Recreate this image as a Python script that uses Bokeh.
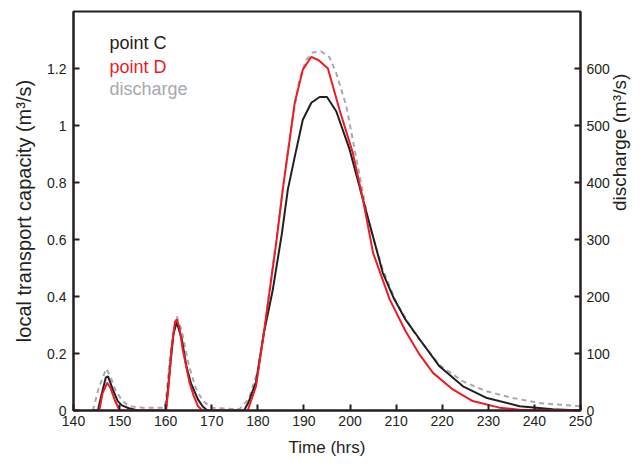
import math
from bokeh.plotting import figure
from bokeh.models import Range1d, LinearAxis, FixedTicker, CustomJSTickFormatter, Label
from bokeh.embed import file_html
from bokeh.resources import INLINE

# ---------------- data ----------------
time_c = [144, 145.3, 146, 147, 147.5, 148.5, 149.6, 150.5, 152, 154,
          160, 160.4, 161, 161.7, 162.4, 163.5, 164.5, 165.5, 167, 168, 169,
          177, 178, 179.6, 181.4, 183.2, 185.2, 186.5, 188, 189.75, 191.6,
          193.4, 195, 197, 199.9, 202.8, 205, 207.1, 209.6, 212, 215.1,
          219.4, 224.5, 229.5, 236.8, 244, 250]
point_c = [0, 0, 0.05, 0.115, 0.12, 0.075, 0.033, 0.018, 0.008, 0,
           0, 0.06, 0.16, 0.27, 0.31, 0.25, 0.155, 0.095, 0.039, 0.015, 0,
           0, 0.03, 0.1, 0.28, 0.42, 0.62, 0.775, 0.89, 1.02, 1.08,
           1.10, 1.10, 1.05, 0.916, 0.74, 0.61, 0.483, 0.39, 0.32, 0.25,
           0.155, 0.085, 0.045, 0.015, 0.004, 0]

time_d = [144, 145.6, 146.3, 147.3, 148, 149, 150, 160.1, 160.6, 161.3, 162,
          162.4, 163, 163.7, 164.5, 165.2, 166, 167, 168, 177.8, 179.6,
          181.4, 182.9, 184.0, 185.4, 186.9, 188, 189.75, 191.6, 193.2, 195.2,
          197.7, 200.6, 202.8, 205, 208.6, 212, 215.1, 218, 222.3, 226.6,
          232.4, 236.8, 250]
point_d = [0, 0, 0.06, 0.097, 0.08, 0.035, 0, 0, 0.08, 0.22, 0.31,
           0.32, 0.29, 0.214, 0.15, 0.097, 0.055, 0.015, 0, 0, 0.085,
           0.284, 0.46, 0.59, 0.775, 0.95, 1.08, 1.196, 1.241, 1.229, 1.2,
           1.056, 0.904, 0.74, 0.553, 0.39, 0.28, 0.196, 0.132, 0.074, 0.033,
           0.01, 0.003, 0]

time_q = [144.2, 145.5, 147.1, 148, 149, 150.5, 152.1, 155, 159.8, 160.2,
          161, 162.4, 163.5, 165, 166.5, 168, 170, 175, 176, 178, 180,
          181.5, 183, 184.5, 186, 187.5, 189, 190.5, 191.9, 193.7, 195.5,
          197, 199.2, 201.7, 204, 207, 210, 214, 219.4, 224.5, 229.5,
          235.3, 241.1, 249.8]
discharge = [0, 40, 73, 60, 37.5, 17.5, 7.5, 5, 5, 30,
             100, 165, 140, 80, 40, 17.5, 5, 2.5, 2.5, 20, 70,
             150, 240, 330, 425, 510, 580, 615, 628, 630, 620,
             592, 534, 428, 330, 250, 190, 135, 80, 51, 34,
             22, 13, 7.5]

x_ticks = [140, 150, 160, 170, 180, 190, 200, 210, 220, 230, 240, 250]
y_ticks = [0, 0.2, 0.4, 0.6, 0.8, 1.0, 1.2]
q_ticks = [0, 100, 200, 300, 400, 500, 600]
legend_labels = ["point C", "point D", "discharge"]

# ---------------- style ----------------
FONT = "Liberation Sans"
INK = "#231f20"
RED = "#ed1c24"
GRAY = "#a7a9ac"

p = figure(width=643, height=461, output_backend="svg", toolbar_location=None,
           x_range=Range1d(140, 250), y_range=Range1d(0, 1.4),
           min_border_left=73, min_border_right=63, min_border_top=11,
           min_border_bottom=51)
p.extra_y_ranges = {"q": Range1d(0, 700)}
p.xgrid.visible = False
p.ygrid.visible = False
p.outline_line_color = INK
p.outline_line_width = 2
p.outline_line_alpha = 1.0
p.background_fill_color = "white"
p.border_fill_color = "white"

p.line(time_q, discharge, y_range_name="q", line_color=GRAY, line_width=2,
       line_dash="5 4")
p.line(time_c, point_c, line_color=INK, line_width=2)
p.line(time_d, point_d, line_color=RED, line_width=2)

right = LinearAxis(y_range_name="q")
p.add_layout(right, "right")

p.xaxis.ticker = FixedTicker(ticks=x_ticks)
p.yaxis[0].ticker = FixedTicker(ticks=y_ticks)
p.yaxis[0].formatter = CustomJSTickFormatter(
    code="return tick.toFixed(1).replace(/\\.0$/, '');")
right.ticker = FixedTicker(ticks=q_ticks)

p.xaxis.axis_label = "Time (hrs)"
p.yaxis[0].axis_label = "local transport capacity (m\u00b3/s)"

for ax in [p.xaxis[0], p.yaxis[0], right]:
    ax.major_tick_in = 6
    ax.major_tick_out = 0
    ax.minor_tick_in = 0
    ax.minor_tick_out = 0
    ax.axis_line_width = 2
    ax.axis_line_color = INK
    ax.major_tick_line_color = INK
    ax.major_tick_line_width = 2
    ax.major_label_text_font = FONT
    ax.major_label_text_font_size = "14px"
    ax.major_label_text_color = INK
    ax.axis_label_text_font = FONT
    ax.axis_label_text_font_style = "normal"
    ax.axis_label_text_color = INK

p.xaxis.axis_label_text_font_size = "17px"
p.yaxis[0].axis_label_text_font_size = "20px"
p.xaxis.major_label_standoff = 5
p.xaxis.axis_label_standoff = 9
p.yaxis[0].major_label_standoff = 7
p.yaxis[0].axis_label_standoff = 9
right.major_label_standoff = 6

right_title = "discharge (m\u00b3/s)"
if "axis_label_orientation" in right.properties():
    right.axis_label = right_title
    right.axis_label_text_font_size = "19px"
    right.axis_label_standoff = 7
    right.axis_label_orientation = math.pi / 2
else:
    p.add_layout(Label(x=258.0, y=0.653, text=right_title,
                       text_color=INK, text_font=FONT, text_font_size="19px",
                       text_baseline="middle", text_align="center",
                       angle=math.pi / 2))

colors = [INK, RED, GRAY]
ys = [1.288, 1.207, 1.128]
for lab, col, yy in zip(legend_labels, colors, ys):
    p.add_layout(Label(x=147.8, y=yy, text=lab, text_color=col,
                       text_font=FONT, text_font_size="18px",
                       text_baseline="middle", text_align="left"))

open("out.html", "w").write(file_html(p, INLINE))
